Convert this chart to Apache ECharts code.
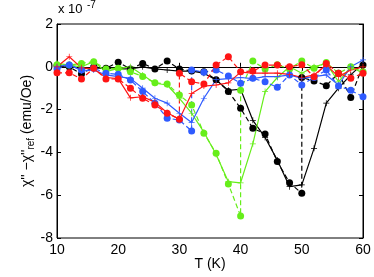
<!DOCTYPE html>
<html><head><meta charset="utf-8">
<script src="https://cdn.jsdelivr.net/npm/echarts@6/dist/echarts.min.js"></script>
<style>html,body{margin:0;padding:0;background:#fff}#c{width:374px;height:277px}</style>
</head><body><div id="c"></div>
<script>
// Temperatures (K) for solid (+) series
const temps = [10,12,14,16,18,20,22,24,26,28,30,32,34,36,38,40,42,44,46,48,50,52,54,56,58,60];
// values in units of 1e-7 emu/Oe
const blackSolid = [0.0,0.05,-0.1,-0.05,-0.07,-0.1,-0.1,0.0,-0.1,-0.15,-0.2,-0.2,-0.3,-0.62,-1.1,-1.05,-2.5,-3.3,-4.36,-5.6,-5.52,-3.81,-1.7,-1.0,-0.38,0.16];
const greenSolid = [0.16,0.08,0.0,0.24,-0.23,-0.07,0.0,-0.38,-0.77,-0.85,-1.47,-2.17,-3.05,-4.1,-5.37,-5.42,-3.6,-1.16,-0.5,0.0,-0.3,0.0,0.16,-0.7,0.0,-0.3];
const blueSolid = [0.0,0.12,-0.2,-0.15,-0.38,-0.46,-0.54,-1.0,-1.47,-1.7,-2.17,-2.6,-1.47,-0.6,-0.55,-0.5,-0.55,-0.46,-0.46,-0.38,-0.54,-0.46,-0.38,-0.85,0.0,0.32];
const redSolid = [0.0,0.47,-0.05,-0.1,-0.5,-0.55,-1.45,-1.4,-1.65,-2.15,-2.45,-1.25,-0.9,-0.85,-0.75,-0.25,-0.3,-0.3,-0.3,-0.35,-0.5,-0.38,0.08,-0.46,-0.15,0.0];

// Dashed (dot) series: temperature lists include repeated transition temperature
const blackDashT = [10,12,14,16,18,20,22,24,26,28,30,32,34,36,38,40,42,44,46,48,50,50,52,54,56,58,60];
const blackDash = [0.05,0.0,-0.34,0.0,-0.07,0.21,-0.1,0.16,-0.1,0.27,-0.1,-0.2,-0.23,-0.6,-1.15,-1.94,-2.87,-3.14,-4.43,-5.42,-5.91,-0.5,-0.66,-0.88,-0.3,-1.43,0.08];
const greenDashT = [10,12,14,16,18,20,22,24,26,28,30,32,34,36,38,40,40,42,44,46,48,50,52,54,56,58,60];
const greenDash = [0.1,0.08,0.16,0.24,-0.1,-0.07,-0.23,-0.45,-0.75,-0.8,-1.32,-1.78,-3.1,-4.04,-5.48,-6.97,-1.1,0.27,-0.1,0.1,-0.1,0.27,-0.07,0.2,-0.3,0.0,-0.23];
const blueDashT = [10,12,14,16,18,20,22,24,26,28,30,32,32,34,36,38,40,42,44,46,48,50,52,54,56,58,60];
const blueDash = [-0.1,0.08,-0.15,-0.07,-0.3,-0.35,-0.62,-1.16,-1.7,-2.4,-2.49,-3.0,-0.15,-0.25,-0.15,-0.43,-0.77,-0.54,-0.7,-0.96,-0.38,-0.85,-0.5,-0.15,-0.9,-1.1,-1.4];
const redDashT = [10,12,14,16,18,20,22,24,26,28,30,30,32,34,36,38,40,42,44,46,48,50,52,54,56,58,60];
const redDash = [-0.28,-0.28,-0.57,-0.07,-0.57,-0.57,-1.0,-1.47,-1.78,-2.17,-2.45,-0.3,-0.7,-0.8,0.08,0.47,-0.23,-0.2,0.08,0.08,0.0,0.1,-0.46,0.16,-0.3,-0.54,-0.3];

const xTicks = [10,20,30,40,50,60];
const yTicks = [-8,-6,-4,-2,0,2];

const COL = {black:'#000000', green:'#66ee1a', blue:'#2f5bff', red:'#ff1414'};
const PLUS = 'path://M0,4.4H10V5.6H0Z M4.4,0H5.6V10H4.4Z';
const FONT = 'Liberation Sans, Arial, Helvetica, sans-serif';

function pairs(xs, ys){ return xs.map((x,i)=>[x, ys[i]]); }
function solid(name, xs, ys, c){
  return {name, type:'line', data:pairs(xs,ys), symbol:PLUS, symbolSize:6,
    lineStyle:{color:c, width:1.2, type:'solid'}, itemStyle:{color:c}, z:2};
}
function dashed(name, xs, ys, c){
  return {name, type:'line', data:pairs(xs,ys), symbol:'circle', symbolSize:7,
    lineStyle:{color:c, width:1.2, type:[5,3]}, itemStyle:{color:c}, z:2};
}

const chart = echarts.init(document.getElementById('c'), null, {renderer:'canvas'});
const axisCommon = {
  axisLine:{show:true, lineStyle:{color:'#000', width:1}},
  axisTick:{show:true, inside:true, length:4, lineStyle:{color:'#000', width:1}},
  splitLine:{show:false}
};
chart.setOption({
  animation:false,
  backgroundColor:'#fff',
  textStyle:{fontFamily:FONT},
  grid:{left:57, right:11, top:24, bottom:39, show:true, borderColor:'#000', borderWidth:1,
    containLabel:false, outerBoundsMode:'none'},
  xAxis:[
    Object.assign({type:'value', min:xTicks[0], max:xTicks[xTicks.length-1], interval:10,
      name:'T (K)', nameLocation:'middle', nameGap:19, nameMoveOverlap:false,
      nameTextStyle:{fontSize:14, color:'#000', fontFamily:FONT},
      axisLabel:{fontSize:14, color:'#000', margin:5, fontFamily:FONT}}, axisCommon),
    Object.assign({type:'value', position:'top', min:xTicks[0], max:xTicks[xTicks.length-1], interval:10,
      axisLabel:{show:false}}, axisCommon)
  ],
  yAxis:[
    Object.assign({type:'value', min:yTicks[0], max:yTicks[yTicks.length-1], interval:2,
      name:'{a|χ\'\' −χ\'\'}{s|ref}{a| (emu/Oe)}', nameLocation:'middle', nameGap:21, nameRotate:90,
      nameMoveOverlap:false,
      nameTextStyle:{color:'#000', fontFamily:FONT, rich:{
        a:{fontSize:14, color:'#000', fontFamily:FONT},
        s:{fontSize:10, color:'#000', fontFamily:FONT, padding:[7,0,0,0]}
      }},
      axisLabel:{fontSize:14, color:'#000', margin:4, fontFamily:FONT}}, axisCommon),
    Object.assign({type:'value', position:'right', min:yTicks[0], max:yTicks[yTicks.length-1], interval:2,
      axisLabel:{show:false}}, axisCommon)
  ],
  graphic:[
    {type:'text', left:58, top:3, style:{text:'x 10', fontSize:13, fill:'#000', fontFamily:FONT}},
    {type:'text', left:87, top:0, style:{text:'-7', fontSize:10, fill:'#000', fontFamily:FONT}}
  ],
  series:[
    solid('black solid', temps, blackSolid, COL.black),
    dashed('black dashed', blackDashT, blackDash, COL.black),
    solid('green solid', temps, greenSolid, COL.green),
    dashed('green dashed', greenDashT, greenDash, COL.green),
    solid('blue solid', temps, blueSolid, COL.blue),
    dashed('blue dashed', blueDashT, blueDash, COL.blue),
    solid('red solid', temps, redSolid, COL.red),
    dashed('red dashed', redDashT, redDash, COL.red)
  ]
});
</script></body></html>
